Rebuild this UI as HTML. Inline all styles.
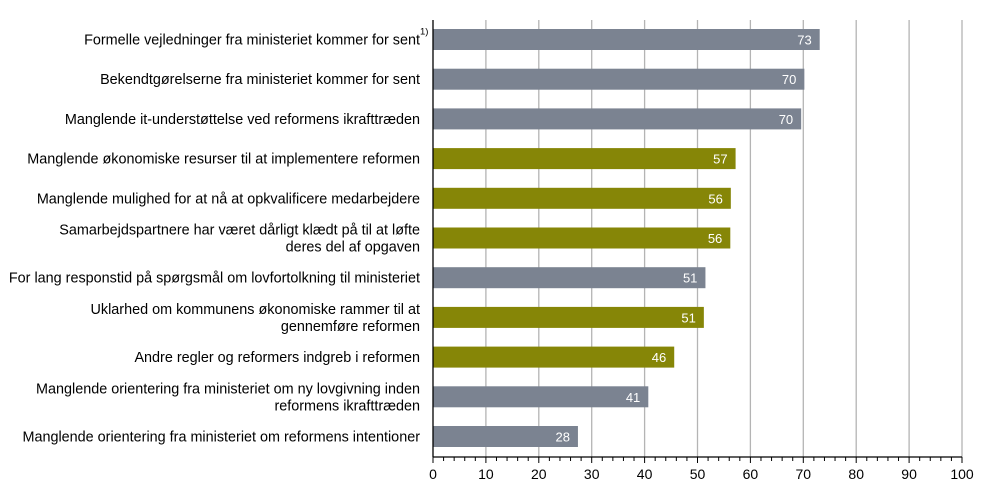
<!DOCTYPE html>
<html><head><meta charset="utf-8"><style>
body{margin:0;background:#fff;}
svg text{font-family:"Liberation Sans",Arial,sans-serif;}
</style></head><body>
<svg width="991" height="497" xmlns="http://www.w3.org/2000/svg">
<g id="grid"></g><g id="bars"></g><g id="axis"></g><g id="labels"></g>
</svg>
<script>
const categories=[
["Formelle vejledninger fra ministeriet kommer for sent"],
["Bekendtgørelserne fra ministeriet kommer for sent"],
["Manglende it-understøttelse ved reformens ikrafttræden"],
["Manglende økonomiske resurser til at implementere reformen"],
["Manglende mulighed for at nå at opkvalificere medarbejdere"],
["Samarbejdspartnere har været dårligt klædt på til at løfte","deres del af opgaven"],
["For lang responstid på spørgsmål om lovfortolkning til ministeriet"],
["Uklarhed om kommunens økonomiske rammer til at","gennemføre reformen"],
["Andre regler og reformers indgreb i reformen"],
["Manglende orientering fra ministeriet om ny lovgivning inden","reformens ikrafttræden"],
["Manglende orientering fra ministeriet om reformens intentioner"]];
const values=[73.1,70.2,69.6,57.2,56.3,56.2,51.5,51.2,45.6,40.7,27.4];
const printed=["73","70","70","57","56","56","51","51","46","41","28"];
const groups=["gray","gray","gray","olive","olive","olive","gray","olive","olive","gray","gray"];
const ticks=[0,10,20,30,40,50,60,70,80,90,100];
const NS="http://www.w3.org/2000/svg";
const x0=433,pxu=5.29,top0=20,axisY=457,rowH=39.7,row0=39.5,barH=21;
const xs=v=>x0+v*pxu, ys=i=>row0+i*rowH;
function mk(t,a,p){const e=document.createElementNS(NS,t);for(const k in a)e.setAttribute(k,a[k]);p.appendChild(e);return e;}
const G=document.getElementById('grid'),B=document.getElementById('bars'),A=document.getElementById('axis'),L=document.getElementById('labels');
ticks.forEach(t=>{if(t>0){const g=mk('line',{x1:xs(t),x2:xs(t),y1:top0,y2:axisY,stroke:'#b4b4b4','stroke-width':1.3},G);

}
const tl=mk('text',{x:xs(t),y:479,'text-anchor':'middle','font-size':14,fill:'#000'},A);tl.textContent=t;

});
mk('line',{x1:x0,x2:x0,y1:top0,y2:axisY,stroke:'#000','stroke-width':1.3},A);
const ax=mk('line',{x1:x0,x2:xs(100),y1:axisY,y2:axisY,stroke:'#000','stroke-width':1.3},A);


for(let t=0;t<=100;t+=2){mk('line',{x1:xs(t),x2:xs(t),y1:axisY,y2:axisY+(t%10==0?6:4),stroke:'#000','stroke-width':1},A);}
values.forEach((v,i)=>{const c=groups[i]=='gray'?'#7b8391':'#868607';
const r=mk('rect',{x:x0,y:ys(i)-barH/2,width:xs(v)-x0,height:barH,fill:c},B);


const vt=mk('text',{x:xs(v)-8,y:ys(i)+5,'text-anchor':'end','font-size':13,fill:'#fff'},B);vt.textContent=printed[i];


const lines=categories[i];
lines.forEach((s,j)=>{const y=ys(i)+5-(lines.length-1)*8.5+j*17;
const lt=mk('text',{x:420,y:y,'text-anchor':'end','font-size':14.4,fill:'#000'},L);lt.textContent=s;

});});
const fn=mk('text',{x:420,y:ys(0)-5,'font-size':9.5,fill:'#000'},L);fn.textContent="1)";


</script>
</body></html>
